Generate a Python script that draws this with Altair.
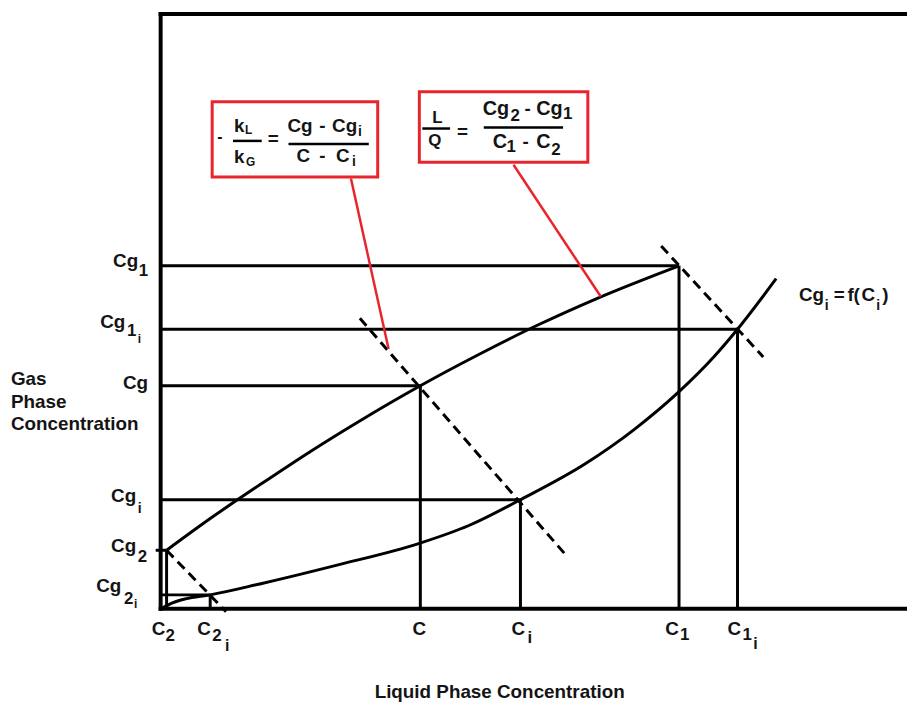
import altair as alt
import pandas as pd

# ---------------- values ----------------
# plot units: 1 unit = 1 px, origin at the corner of the two axes
liquid_names = ["C2", "C2i", "C", "Ci", "C1", "C1i"]
liquid_values = [6, 50, 262, 363, 523, 582]
gas_names = ["Cg2", "Cg2i", "Cg", "Cgi", "Cg1", "Cg1i"]
gas_values = [59, 14, 225, 110, 346, 282]

# operating line (gas vs liquid)
operating_x = [6, 50, 100, 150, 200, 262, 320, 380, 440, 523]
operating_y = [59, 91, 125, 158, 189, 225, 256, 286, 313, 346]

# equilibrium curve Cgi = f(Ci)
equilibrium_x = [2, 12, 25, 50, 100, 178, 261, 311, 363, 428, 478, 523, 558, 582, 621]
equilibrium_y = [1, 6, 10, 14, 25, 44, 66, 84, 110, 146, 181, 219, 254, 282, 333]

# dashed tie lines of slope -kL/kG
tie_x_start = [6, 201, 505]
tie_y_start = [59, 293, 366]
tie_x_end = [66, 409, 608]
tie_y_end = [-3, 54, 254]

# frame extents
frame_right = 753
frame_top = 600

# ---------------- layout helpers ----------------
X0, Y0 = 162, 611          # picture position of the axes corner


def px(x):
    return x - X0


def py(y):
    return Y0 - y


XS = alt.Scale(domain=[px(8), px(915)], nice=False, zero=False)
YS = alt.Scale(domain=[py(704), py(8)], nice=False, zero=False)


def rules(df, **style):
    return alt.Chart(df).mark_rule(**style).encode(
        x=alt.X("x:Q", scale=XS, axis=None),
        y=alt.Y("y:Q", scale=YS, axis=None),
        x2="x2:Q",
        y2="y2:Q",
    )


BLACK = "#000000"
RED = "#e8242c"
TXT = "#141414"
FONT = "Liberation Sans"

# frame
frame = pd.DataFrame({
    "x": [0, 0, 0], "y": [0, 0, frame_top],
    "x2": [0, frame_right, frame_right], "y2": [frame_top, 0, frame_top],
})

# guide lines from the axes to each (C, Cg) pair
guides_h = pd.DataFrame({"x": [0] * len(gas_values), "y": gas_values,
                         "x2": liquid_values, "y2": gas_values})
guides_v = pd.DataFrame({"x": liquid_values, "y": [0] * len(liquid_values),
                         "x2": liquid_values, "y2": gas_values})
tick = pd.DataFrame({"x": [-5], "y": [gas_values[0]], "x2": [0], "y2": [gas_values[0]]})

ties = pd.DataFrame({"x": tie_x_start, "y": tie_y_start, "x2": tie_x_end, "y2": tie_y_end})

operating = pd.DataFrame({"x": operating_x, "y": operating_y})
equilibrium = pd.DataFrame({"x": equilibrium_x, "y": equilibrium_y})


def curve(df):
    return alt.Chart(df).mark_line(color=BLACK, strokeWidth=3, interpolate="monotone").encode(
        x=alt.X("x:Q", scale=XS, axis=None),
        y=alt.Y("y:Q", scale=YS, axis=None),
        order="x:Q",
    )


# annotation boxes and pointers (picture positions)
boxes = pd.DataFrame({
    "x": [px(214), px(423)], "x2": [px(381), px(593)],
    "y": [py(99.5), py(89.5)], "y2": [py(175.5), py(160.5)],
})
pointers = pd.DataFrame({
    "x": [px(354), px(518)], "y": [py(177), py(163)],
    "x2": [px(392), px(606)], "y2": [py(349), py(296)],
})
bars = pd.DataFrame({
    "x": [px(235), px(291), px(426), px(488)],
    "x2": [px(264), px(372), px(454), px(568)],
    "y": [py(139), py(142), py(126.5), py(125.5)],
    "y2": [py(139), py(142), py(126.5), py(125.5)],
})

# text pieces: (text, left x, centre y, font size) in picture positions
pieces = [
    # gas-phase tick labels
    ("Cg", 114, 260, 19), ("1", 140, 270, 17),
    ("Cg", 101, 322, 19), ("1", 128, 331, 17), ("i", 139, 339, 12),
    ("Cg", 124, 383, 19),
    ("Cg", 112, 497, 19), ("i", 139, 510, 14),
    ("Cg", 112, 548, 19), ("2", 139, 559, 17),
    ("Cg", 97, 588, 19), ("2", 125, 601, 17), ("i", 135, 606, 12),
    # liquid-phase tick labels
    ("C", 153, 631, 19), ("2", 167, 639, 17),
    ("C", 199, 631, 19), ("2", 214, 639, 17), ("i", 227, 649, 16),
    ("C", 416, 631, 19),
    ("C", 516, 631, 19), ("i", 532, 641, 17),
    ("C", 671, 631, 19), ("1", 686, 638, 17),
    ("C", 734, 631, 19), ("1", 749, 638, 17), ("i", 760, 647, 16),
    # y title
    ("Gas", 11, 379, 19), ("Phase", 11, 402, 19), ("Concentration", 11, 425, 19),
    # equilibrium label
    ("Cg", 806, 295, 19), ("i", 832, 306, 14), ("=", 841, 295, 19),
    ("f", 855, 295, 19), ("(", 861, 295, 19), ("C", 869, 295, 19),
    ("i", 884, 306, 14), (")", 890, 295, 19),
    # box 1:  - kL/kG = (Cg - Cgi)/(C - Ci)
    ("-", 219, 135, 16), ("k", 236, 124, 19), ("L", 247, 128, 12),
    ("k", 236, 155, 19), ("G", 248, 160, 12), ("=", 270, 137, 19),
    ("Cg", 290, 124, 19), ("-", 322, 124, 19), ("Cg", 335, 124, 19), ("i", 361, 130, 14),
    ("C", 299, 154, 19), ("-", 322, 154, 19), ("C", 339, 154, 19), ("i", 355, 160, 14),
    # box 2:  L/Q = (Cg2 - Cg1)/(C1 - C2)
    ("L", 436, 116, 17), ("Q", 432, 139, 17), ("=", 461, 130, 19),
    ("Cg", 487, 107, 20), ("2", 515, 114, 17), ("-", 529, 107, 19),
    ("Cg", 541, 107, 20), ("1", 568, 112, 17),
    ("C", 497, 140, 20), ("1", 511, 145, 17), ("-", 527, 140, 19),
    ("C", 541, 140, 20), ("2", 556, 148, 17),
]
texts = pd.DataFrame({
    "t": [p[0] for p in pieces],
    "x": [px(p[1]) for p in pieces],
    "y": [py(p[2]) for p in pieces],
    "s": [p[3] for p in pieces],
})
title_x = pd.DataFrame({"t": ["Liquid Phase Concentration"], "x": [px(504)], "y": [py(695)], "s": [19]})


def text_layer(df, align):
    return alt.Chart(df).mark_text(
        align=align, baseline="middle", font=FONT, fontWeight="bold", color=TXT
    ).encode(
        x=alt.X("x:Q", scale=XS, axis=None),
        y=alt.Y("y:Q", scale=YS, axis=None),
        text="t:N",
        size=alt.Size("s:Q", scale=None),
    )


layers = [
    rules(guides_h, color=BLACK, strokeWidth=3),
    rules(guides_v, color=BLACK, strokeWidth=3),
    rules(tick, color=BLACK, strokeWidth=3),
    curve(operating),
    curve(equilibrium),
    rules(ties, color=BLACK, strokeWidth=3, strokeDash=[10, 6]),
    rules(frame, color=BLACK, strokeWidth=4, strokeCap="square"),
    rules(pointers, color=RED, strokeWidth=2.5),
    alt.Chart(boxes).mark_rect(fill="white", stroke=RED, strokeWidth=3).encode(
        x=alt.X("x:Q", scale=XS, axis=None), x2="x2:Q",
        y=alt.Y("y:Q", scale=YS, axis=None), y2="y2:Q",
    ),
    rules(bars, color=BLACK, strokeWidth=2.5),
    text_layer(texts, "left"),
    text_layer(title_x, "center"),
]

chart = alt.layer(*layers).properties(
    width=907, height=696,
    autosize=alt.AutoSizeParams(type="none"),
    padding=0,
).configure_view(strokeWidth=0)

chart.save("out.html", embed_options={"renderer": "svg", "actions": False})
